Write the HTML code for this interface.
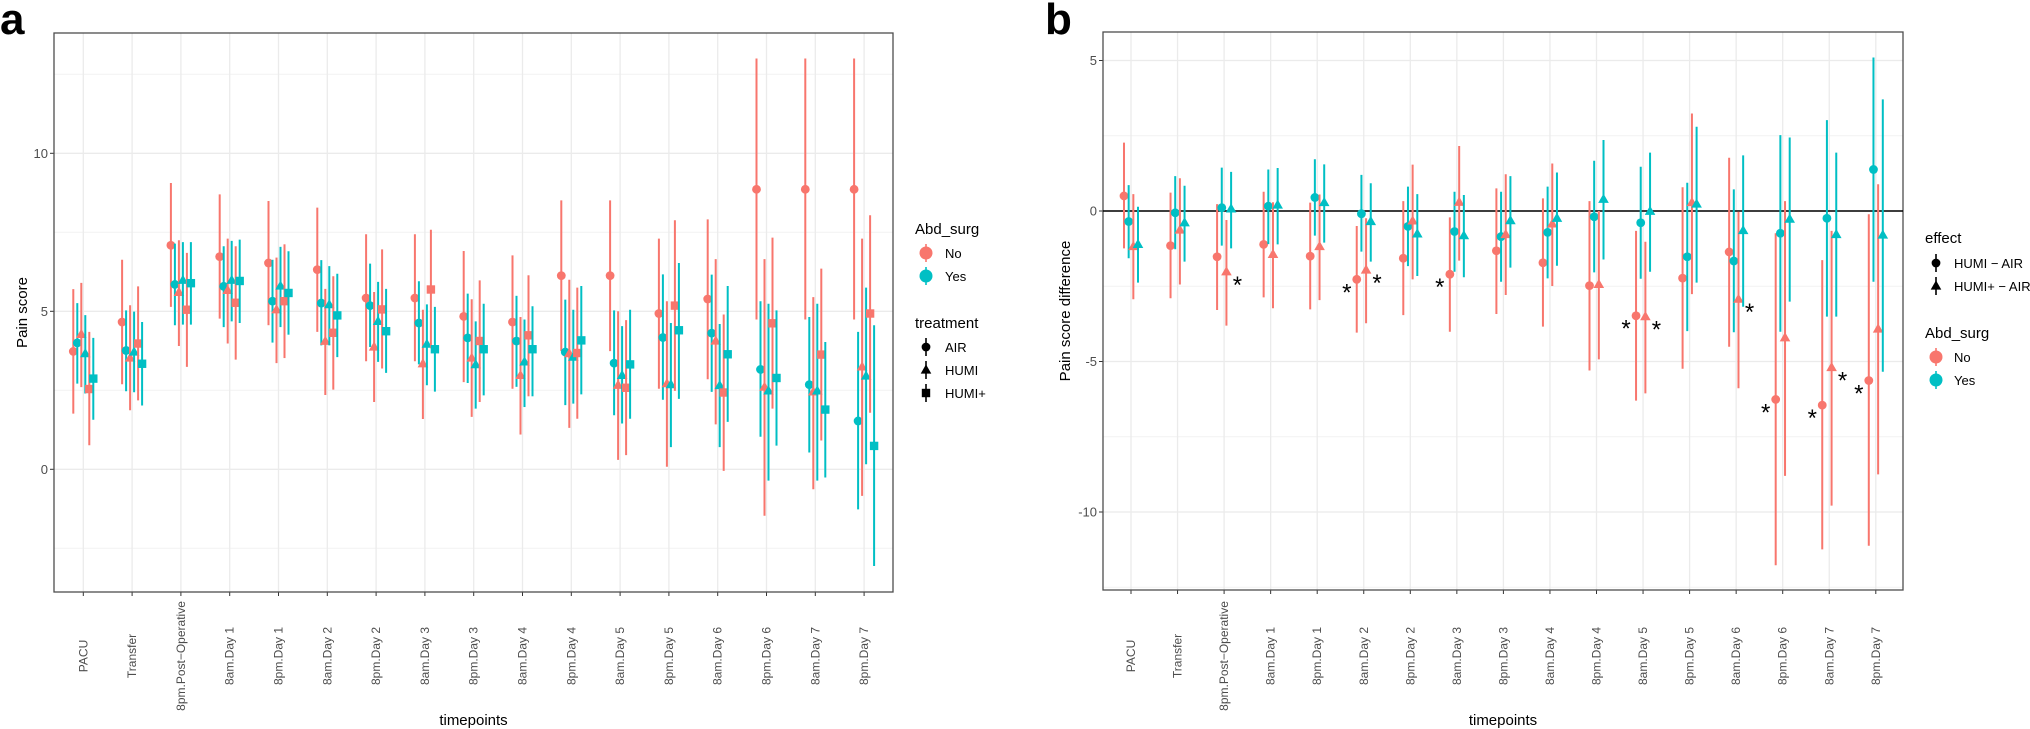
<!DOCTYPE html>
<html><head><meta charset="utf-8"><style>
html,body{margin:0;padding:0;background:#fff;}
svg{display:block;font-family:"Liberation Sans",Arial,sans-serif;}
</style></head><body>
<svg id="chart" width="2030" height="729" viewBox="0 0 2030 729" xmlns="http://www.w3.org/2000/svg"></svg>
<script>
const categories = ["PACU","Transfer","8pm.Post\u2212Operative","8am.Day 1","8pm.Day 1","8am.Day 2","8pm.Day 2","8am.Day 3","8pm.Day 3","8am.Day 4","8pm.Day 4","8am.Day 5","8pm.Day 5","8am.Day 6","8pm.Day 6","8am.Day 7","8pm.Day 7"];
// Panel a
const aNoAIR = [3.73,4.66,7.09,6.73,6.53,6.32,5.42,5.42,4.84,4.66,6.13,6.13,4.93,5.39,8.86,8.86,8.86];
const aNoAIRlo = [1.76,2.69,5.14,4.77,4.56,4.35,3.42,3.42,2.76,2.55,3.74,3.74,2.55,2.85,4.74,4.74,4.74];
const aNoAIRhi = [5.70,6.63,9.06,8.70,8.49,8.28,7.44,7.44,6.91,6.77,8.51,8.51,7.30,7.91,13.0,13.0,13.0];
const aYesAIR = [4.0,3.76,5.85,5.79,5.32,5.26,5.18,4.63,4.16,4.06,3.71,3.36,4.17,4.31,3.16,2.68,1.53];
const aYesAIRlo = [2.71,2.47,4.56,4.5,4.01,3.92,3.87,3.32,2.73,2.61,2.03,1.71,2.2,2.45,1.03,0.53,-1.27];
const aYesAIRhi = [5.26,5.03,7.14,7.06,6.63,6.62,6.51,5.95,5.56,5.49,5.37,5.03,6.17,6.16,5.32,4.82,4.35];
const aNoHUMI = [4.27,3.52,5.6,5.66,5.05,4.05,3.87,3.34,3.52,2.97,3.66,2.66,2.71,4.06,2.6,2.45,3.24];
const aNoHUMIlo = [2.6,1.87,3.9,3.98,3.36,2.35,2.13,1.59,1.66,1.1,1.31,0.3,0.08,1.42,-1.47,-0.63,-0.84];
const aNoHUMIhi = [5.9,5.19,7.25,7.3,6.7,5.71,5.61,5.05,5.38,4.82,6.0,5.0,5.32,6.65,6.65,5.45,7.3];
const aYesHUMI = [3.66,3.71,5.98,5.98,5.8,5.21,4.68,3.96,3.31,3.4,3.55,2.97,2.68,2.65,2.48,2.48,2.95];
const aYesHUMIlo = [2.4,2.44,4.58,4.68,4.5,3.92,3.4,2.66,1.92,1.97,2.08,1.45,0.7,0.7,-0.36,-0.36,0.16];
const aYesHUMIhi = [4.88,4.99,7.19,7.23,7.04,6.43,5.93,5.22,4.68,4.74,5.05,4.53,4.63,4.6,5.24,5.24,5.75];
const aNoHUMIp = [2.54,3.98,5.05,5.27,5.32,4.32,5.06,5.69,4.06,4.24,3.68,2.58,5.18,2.43,4.62,3.63,4.93];
const aNoHUMIplo = [0.76,2.18,3.24,3.47,3.52,2.52,3.19,3.83,2.13,2.31,1.6,0.45,2.48,-0.05,1.92,0.91,1.79];
const aNoHUMIphi = [4.35,5.79,6.85,7.06,7.12,6.11,6.96,7.58,5.98,6.14,5.75,4.72,7.88,4.9,7.33,6.35,8.04];
const aYesHUMIp = [2.87,3.34,5.89,5.96,5.58,4.87,4.37,3.8,3.8,3.8,4.08,3.32,4.4,3.64,2.89,1.89,0.74];
const aYesHUMIplo = [1.57,2.02,4.58,4.63,4.26,3.55,3.05,2.46,2.34,2.31,2.37,1.6,2.23,1.5,0.75,-0.26,-3.06];
const aYesHUMIphi = [4.16,4.66,7.19,7.27,6.9,6.19,5.71,5.14,5.24,5.16,5.8,5.05,6.53,5.8,5.03,4.03,4.56];
const aTicks = [0,5,10];
const aMinor = [-2.5,2.5,7.5,12.5];
// Panel b
const bNoHA = [0.5,-1.15,-1.52,-1.11,-1.5,-2.27,-1.57,-2.1,-1.32,-1.72,-2.48,-3.48,-2.23,-1.36,-6.26,-6.45,-5.63];
const bNoHAlo = [-1.24,-2.9,-3.29,-2.87,-3.27,-4.04,-3.46,-4.01,-3.42,-3.84,-5.3,-6.3,-5.24,-4.51,-11.77,-11.24,-11.12];
const bNoHAhi = [2.27,0.61,0.23,0.64,0.28,-0.5,0.33,-0.21,0.75,0.42,0.33,-0.66,0.79,1.77,-0.74,-1.63,-0.11];
const bYesHA = [-0.35,-0.06,0.11,0.16,0.45,-0.09,-0.51,-0.68,-0.85,-0.71,-0.19,-0.39,-1.52,-1.66,-0.74,-0.24,1.38];
const bYesHAlo = [-1.57,-1.27,-1.15,-1.1,-0.82,-1.35,-1.83,-2.02,-2.35,-2.24,-2.04,-2.25,-3.99,-4.03,-4.01,-3.51,-2.35];
const bYesHAhi = [0.86,1.16,1.44,1.38,1.72,1.2,0.81,0.64,0.64,0.81,1.67,1.47,0.94,0.72,2.52,3.02,5.1];
const bNoHpA = [-1.18,-0.63,-2.02,-1.44,-1.18,-1.96,-0.33,0.29,-0.78,-0.43,-2.44,-3.51,0.28,-2.93,-4.21,-5.2,-3.92];
const bNoHpAlo = [-2.93,-2.44,-3.81,-3.23,-2.96,-3.73,-2.27,-1.65,-2.79,-2.49,-4.93,-6.06,-2.76,-5.89,-8.8,-9.79,-8.75];
const bNoHpAhi = [0.56,1.09,-0.3,0.29,0.55,-0.24,1.54,2.16,1.22,1.58,0,-1.02,3.24,-0.02,0.33,-0.66,0.89];
const bYesHpA = [-1.11,-0.39,0.07,0.2,0.28,-0.35,-0.76,-0.82,-0.32,-0.24,0.39,-0.01,0.23,-0.65,-0.27,-0.78,-0.8];
const bYesHpAlo = [-2.38,-1.68,-1.24,-1.11,-1.05,-1.68,-2.16,-2.2,-1.88,-1.82,-1.61,-2.02,-2.38,-3.18,-3.01,-3.51,-5.34];
const bYesHpAhi = [0.14,0.84,1.3,1.43,1.55,0.92,0.56,0.53,1.16,1.28,2.36,1.94,2.8,1.85,2.44,1.94,3.71];
const starNoHA = [5,7,11,14,15,16];
const starNoHpA = [2,5,11,13,15];
const bTicks = [-10,-5,0,5];
const bMinor = [-12.5,-7.5,-2.5,2.5];

const RED = "#F8766D", TEAL = "#00BFC4";
const NS = "http://www.w3.org/2000/svg";
const svg = document.getElementById("chart");
function mk(tag, attrs, parent){ const e=document.createElementNS(NS,tag); for(const k in attrs) e.setAttribute(k,attrs[k]); (parent||svg).appendChild(e); return e; }

// axis functions
const A = {left:54,right:893,top:33,bottom:592, x0:83.3, step:48.8, y:v=>469.3-v*31.6};
const B = {left:1103,right:1903,top:32,bottom:590, x0:1131, step:46.55, y:v=>211-v*30.1};
const xA = i=>A.x0+i*A.step, xB = i=>B.x0+i*B.step;

function marker(shape, cx, cy, color, g){
  let e;
  if(shape==="circle") e=mk("circle",{cx:cx,cy:cy,r:4.4,fill:color},g);
  else if(shape==="tri") e=mk("polygon",{points:`${cx-5.3},${cy+3.6} ${cx+5.3},${cy+3.6} ${cx},${cy-5.6}`,fill:color},g);
  else e=mk("rect",{x:cx-4.2,y:cy-4.2,width:8.4,height:8.4,fill:color},g);
  return e;
}

function panelFrame(P, xf, ticks, minor, name, ylabelTxt, ylabelX){
  const g = mk("g",{});
  
  
  for(const v of minor){ const y=P.y(v); if(y>P.top&&y<P.bottom){ const l=mk("line",{x1:P.left,x2:P.right,y1:y,y2:y,stroke:"#F2F2F2","stroke-width":1},g);
     } }
  for(const v of ticks){ const y=P.y(v); const l=mk("line",{x1:P.left,x2:P.right,y1:y,y2:y,stroke:"#EBEBEB","stroke-width":1.3},g);
     
    const t=mk("line",{x1:P.left-4,x2:P.left,y1:y,y2:y,stroke:"#333","stroke-width":1},g);
     
    const tx=mk("text",{x:P.left-6,y:y+4.5,"text-anchor":"end","font-size":13,fill:"#4D4D4D"},g);
    tx.textContent = v<0 ? "-"+Math.abs(v) : String(v);
      }
  categories.forEach((c,i)=>{ const x=xf(i);
    const l=mk("line",{x1:x,x2:x,y1:P.top,y2:P.bottom,stroke:"#EBEBEB","stroke-width":1.3},g);
     
    const t=mk("line",{x1:x,x2:x,y1:P.bottom,y2:P.bottom+4,stroke:"#333","stroke-width":1},g);
     
    const tx=mk("text",{x:0,y:0,"text-anchor":"middle","font-size":12,fill:"#4D4D4D",transform:`translate(${x+4},656) rotate(-90)`},g);
    tx.textContent=c;
     
  });
  const fr=mk("rect",{x:P.left,y:P.top,width:P.right-P.left,height:P.bottom-P.top,fill:"none",stroke:"#4D4D4D","stroke-width":1.3},g);
   
  const xt=mk("text",{x:(P.left+P.right)/2,y:725,"text-anchor":"middle","font-size":15,fill:"#000"},g);
  xt.textContent="timepoints";
   
  const yt=mk("text",{x:0,y:0,"text-anchor":"middle","font-size":15,fill:"#000",transform:`translate(${ylabelX},${(P.top+P.bottom)/2}) rotate(-90)`},g);
  yt.textContent=ylabelTxt;
   
  return g;
}

function series(P, xf, off, vals, lo, hi, color, shape, name){
  const g=mk("g",{});
  
  
  vals.forEach((v,i)=>{ const x=xf(i)+off;
    const l=mk("line",{x1:x,x2:x,y1:P.y(lo[i]),y2:P.y(hi[i]),stroke:color,"stroke-width":2},g);
     
    const m=marker(shape,x,P.y(v),color,g);
     
  });
  return g;
}

// Panel a
panelFrame(A, xA, aTicks, aMinor, "a", "Pain score", 27);
const aSeries = [
 [aNoAIR,aNoAIRlo,aNoAIRhi,RED,"circle","no-air-series"],
 [aYesAIR,aYesAIRlo,aYesAIRhi,TEAL,"circle","yes-air-series"],
 [aNoHUMI,aNoHUMIlo,aNoHUMIhi,RED,"tri","no-humi-series"],
 [aYesHUMI,aYesHUMIlo,aYesHUMIhi,TEAL,"tri","yes-humi-series"],
 [aNoHUMIp,aNoHUMIplo,aNoHUMIphi,RED,"sq","no-humiplus-series"],
 [aYesHUMIp,aYesHUMIplo,aYesHUMIphi,TEAL,"sq","yes-humiplus-series"]];
aSeries.forEach((s,k)=>series(A,xA,(k-2.5)*4,s[0],s[1],s[2],s[3],s[4],s[5]));

// Panel b
panelFrame(B, xB, bTicks, bMinor, "b", "Pain score difference", 1070);
const zl=mk("line",{x1:B.left,x2:B.right,y1:B.y(0),y2:B.y(0),stroke:"#000","stroke-width":1.6});
 
const bSeries = [
 [bNoHA,bNoHAlo,bNoHAhi,RED,"circle","no-humi-air-series"],
 [bYesHA,bYesHAlo,bYesHAhi,TEAL,"circle","yes-humi-air-series"],
 [bNoHpA,bNoHpAlo,bNoHpAhi,RED,"tri","no-humiplus-air-series"],
 [bYesHpA,bYesHpAlo,bYesHpAhi,TEAL,"tri","yes-humiplus-air-series"]];
const bOff = k=>(k-1.5)*4.67;
bSeries.forEach((s,k)=>series(B,xB,bOff(k),s[0],s[1],s[2],s[3],s[4],s[5]));
starNoHA.forEach(i=>{ const t=mk("text",{x:xB(i)+bOff(0)-10,y:B.y(bNoHA[i])+9+12,"text-anchor":"middle","font-size":24,fill:"#000"});
  t.textContent="*";   });
starNoHpA.forEach(i=>{ const t=mk("text",{x:xB(i)+bOff(2)+11,y:B.y(bNoHpA[i])+9+12,"text-anchor":"middle","font-size":24,fill:"#000"});
  t.textContent="*";   });

// panel letters
const la=mk("text",{x:0,y:34,"font-size":44,"font-weight":"bold",fill:"#000"}); la.textContent="a";
 
const lb=mk("text",{x:1045,y:34,"font-size":44,"font-weight":"bold",fill:"#000"}); lb.textContent="b";
 

// legends
function legTitle(x,y,txt){ const t=mk("text",{x:x,y:y+5,"font-size":15,fill:"#000"}); t.textContent=txt;
    }
function legEntry(kx,tx,y,color,shape,txt){
  const g=mk("g",{});
  
  
  mk("line",{x1:kx,x2:kx,y1:y-9,y2:y+9,stroke:color,"stroke-width":1.6},g);
  if(shape==="circle") mk("circle",{cx:kx,cy:y,r:shape==="circle"&&color!=="#000"?6.5:4.4,fill:color},g);
  else marker(shape,kx,y,color,g);
  const t=mk("text",{x:tx,y:y+5,"font-size":13,fill:"#000"},g); t.textContent=txt;
}
legTitle(915,229,"Abd_surg");
legEntry(926,945,253,RED,"circle","No");
legEntry(926,945,276,TEAL,"circle","Yes");
legTitle(915,323,"treatment");
legEntry(926,945,347,"#000","circle","AIR");
legEntry(926,945,370,"#000","tri","HUMI");
legEntry(926,945,393,"#000","sq","HUMI+");

legTitle(1925,238,"effect");
legEntry(1936,1954,263,"#000","circle","HUMI \u2212 AIR");
legEntry(1936,1954,286,"#000","tri","HUMI+ \u2212 AIR");
legTitle(1925,333,"Abd_surg");
legEntry(1936,1954,357,RED,"circle","No");
legEntry(1936,1954,380,TEAL,"circle","Yes");
</script>
</body></html>
